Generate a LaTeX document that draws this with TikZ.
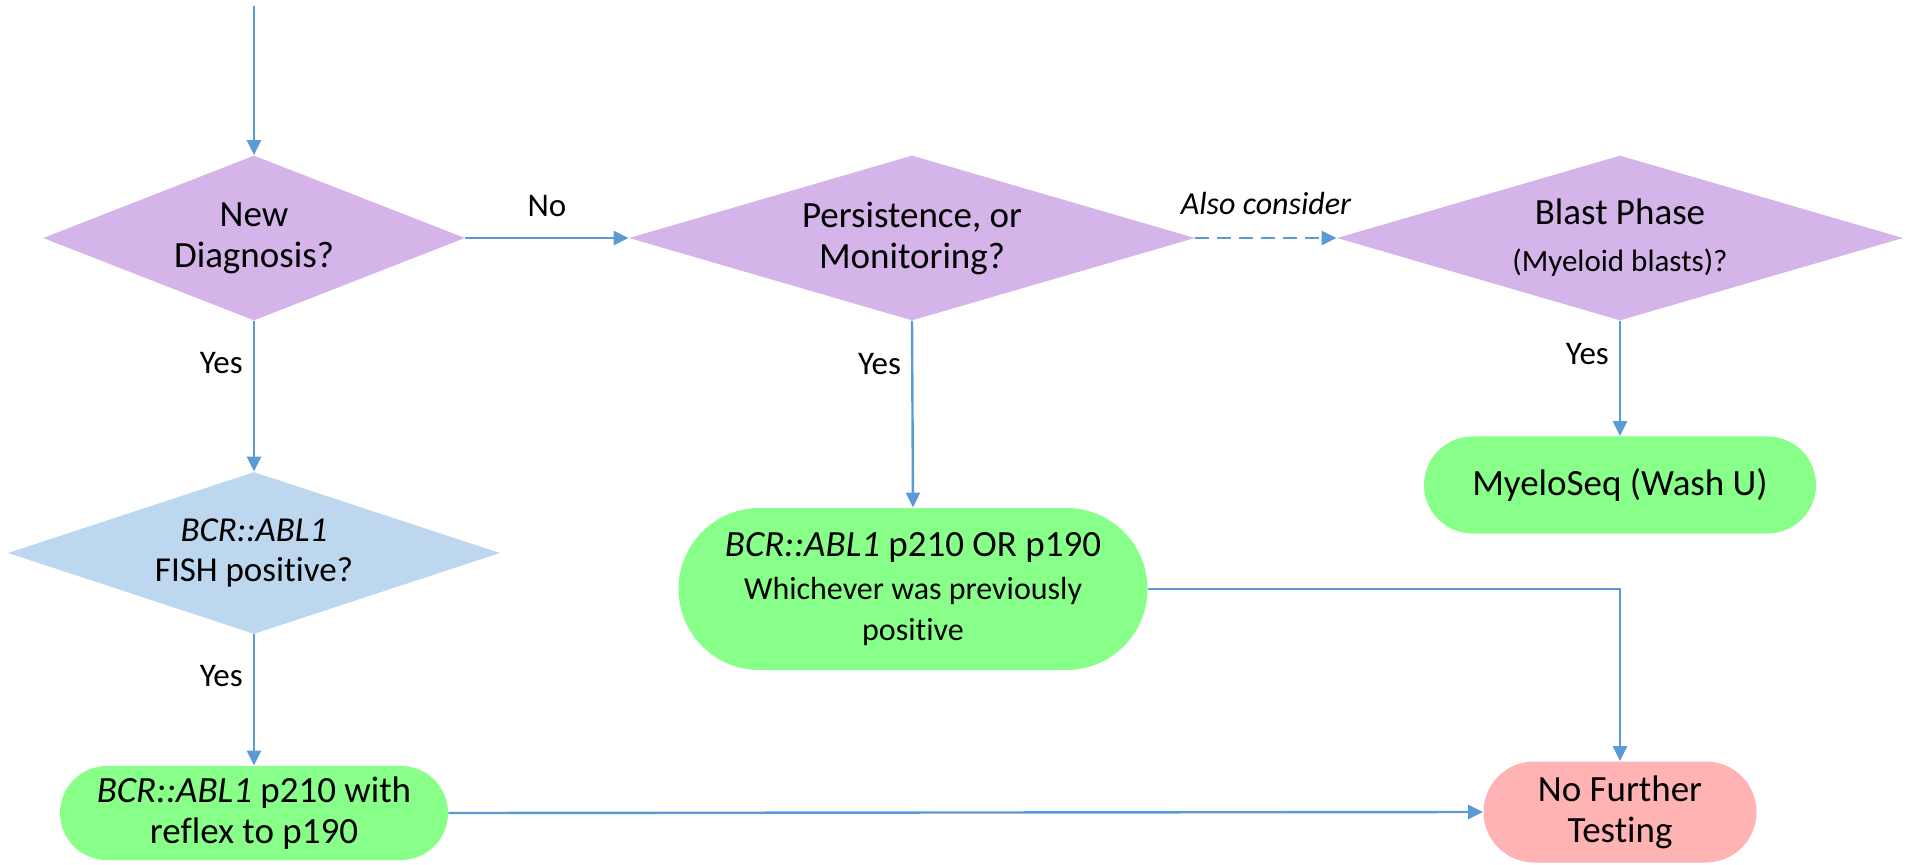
\documentclass[tikz,border=0pt]{standalone}
\usepackage{fontspec}
\setmainfont{Carlito}[Ligatures={NoCommon}]
\usetikzlibrary{shapes.geometric,shapes.misc,arrows.meta}
\definecolor{purp}{HTML}{D4B4E9}
\definecolor{lblue}{HTML}{BDD7EE}
\definecolor{lgreen}{HTML}{88FF88}
\definecolor{lpink}{HTML}{FFB3B3}
\definecolor{arrblue}{HTML}{5B9BD5}
\begin{document}
\begin{tikzpicture}[x=0.5pt,y=-0.5pt,
  dia/.style={diamond, draw=none, inner sep=0pt, align=center, font=\fontsize{18.5}{20.5}\selectfont},
  pill/.style={rounded rectangle, draw=none, inner sep=0pt, align=center, font=\fontsize{18.5}{20.5}\selectfont},
  arr/.style={draw=arrblue, line width=1.2pt, -{Triangle[length=7.5pt,width=7pt]}},
  lbl/.style={inner sep=0pt, font=\fontsize{16.5}{19}\selectfont}]
\useasboundingbox (0,0) rectangle (1914,865);

\node[dia, fill=purp, aspect=2.55, minimum width=211pt, minimum height=82.5pt] (new) at (254,238) {New\\Diagnosis?};
\node[dia, fill=purp, aspect=3.43, minimum width=283pt, minimum height=82.5pt] (pers) at (912,238) {Persistence, or\\Monitoring?};
\node[dia, fill=purp, aspect=3.43, minimum width=283pt, minimum height=82.5pt] (blast) at (1620,238) {Blast Phase\\[3pt]{\fontsize{15.5}{18}\selectfont (Myeloid blasts)?}};
\node[dia, fill=lblue, aspect=3.04, minimum width=246pt, minimum height=81pt, font=\fontsize{17.5}{20}\selectfont] (fish) at (254,553) {\textit{BCR::ABL1}\\FISH positive?};

\node[pill, fill=lgreen, minimum width=194pt, minimum height=47pt] (p210) at (254,813) {\textit{BCR::ABL1} p210 with\\reflex to p190};
\node[pill, fill=lgreen, minimum width=234.5pt, minimum height=81pt] (bcr) at (913,589) {\textit{BCR::ABL1} p210 OR p190\\[1pt]{\fontsize{16}{17.5}\selectfont Whichever was previously}\\{\fontsize{16}{17.5}\selectfont positive}};
\node[pill, fill=lgreen, minimum width=196pt, minimum height=48.5pt] (myelo) at (1620,485) {MyeloSeq (Wash U)};
\node[pill, fill=lpink, minimum width=136.5pt, minimum height=50.5pt] (nft) at (1620,812) {No Further\\Testing};

\coordinate (start) at (254,6);
\draw[arr] (start) -- (new.north);
\draw[arr] (new.east) -- node[lbl, above=10pt] {No} (pers.west);
\draw[arr, dashed, dash pattern=on 7pt off 4pt] (pers.east) -- node[lbl, above=11pt, font=\fontsize{16}{18}\selectfont\itshape] {Also consider} (blast.west);
\draw[arr] (new.south) -- node[lbl, pos=0.28, left=5pt] {Yes} (fish.north);
\draw[arr] (fish.south) -- node[lbl, pos=0.32, left=5pt] {Yes} (p210.north);
\draw[arr] (pers.south) -- node[lbl, pos=0.23, left=5pt] {Yes} (bcr.north);
\draw[arr] (blast.south) -- node[lbl, pos=0.29, left=5pt] {Yes} (myelo.north);
\draw[arr] (p210.east) -- (nft.west);
\draw[arr] (bcr.east) -| (nft.north);
\end{tikzpicture}
\end{document}
